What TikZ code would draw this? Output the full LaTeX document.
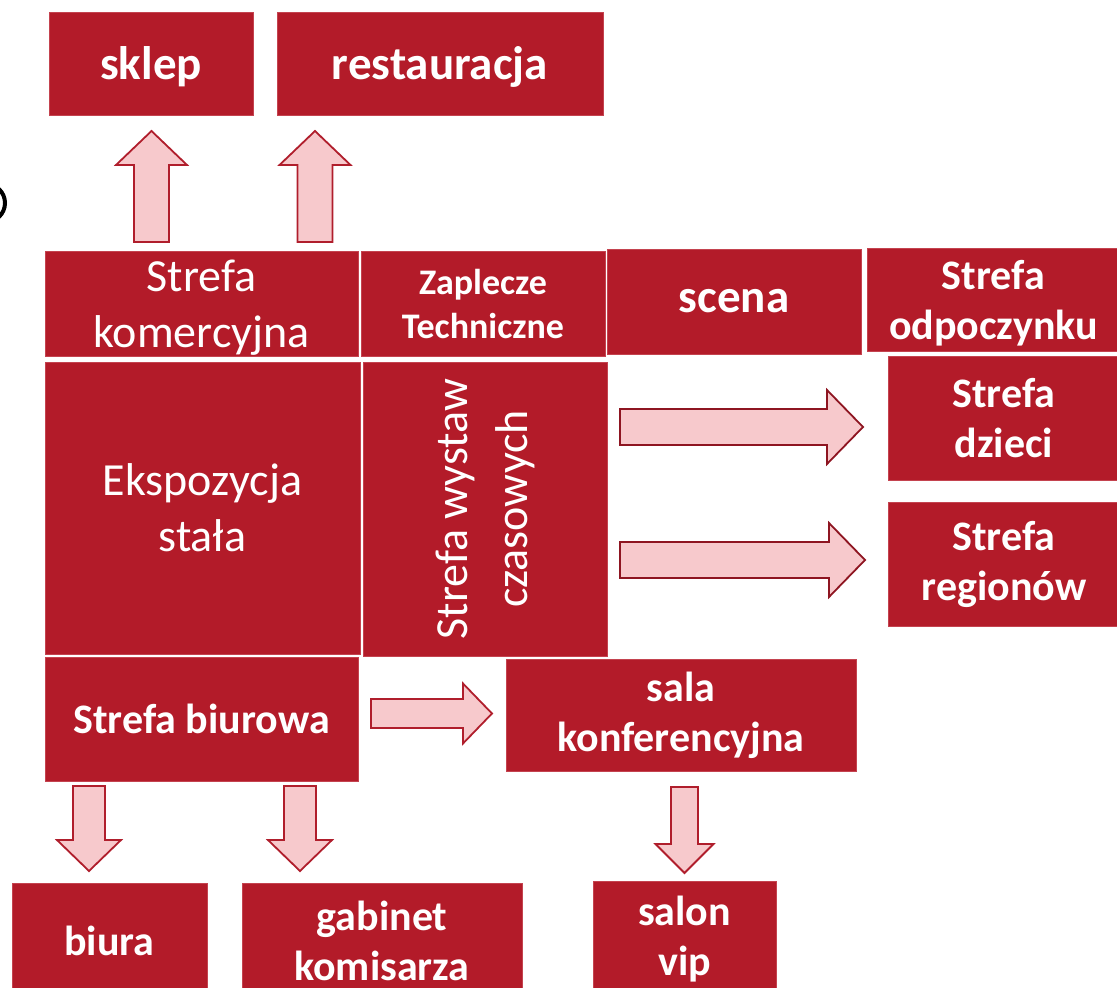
\documentclass[tikz,border=0pt]{standalone}
\usepackage{fontspec}
\setmainfont{Carlito}
\usetikzlibrary{calc}
\definecolor{boxred}{HTML}{B31B29}
\definecolor{boxedge}{HTML}{C4434F}
\definecolor{arrfill}{HTML}{F7C9CC}
\definecolor{arredge}{HTML}{B01E2C}
\definecolor{arredgedark}{HTML}{8E1521}
% #1 start coordinate, #2 direction angle, #3 length, #4 shaft half width, #5 head half width, #6 head length, #7 style
\newcommand\blockarrow[7]{%
  \begin{scope}[shift={(#1)},rotate=#2]
    \filldraw[#7] (0,-#4) -- ({#3-#6},-#4) -- ({#3-#6},-#5) -- (#3,0)
      -- ({#3-#6},#5) -- ({#3-#6},#4) -- (0,#4) -- cycle;
  \end{scope}}
\tikzset{
  zone/.style={fill=boxred, draw=boxedge, line width=0.8pt, text=white, align=center, inner sep=0pt},
  boldtxt/.style={font=\fontsize{42}{50}\selectfont\bfseries},
  bigtxt/.style={font=\fontsize{47}{56}\selectfont\bfseries},
  smalltxt/.style={font=\fontsize{36}{44}\selectfont\bfseries},
  lighttxt/.style={font=\fontsize{46}{56}\selectfont},
  nodepth/.style={text depth=0pt},
  barrow/.style={fill=arrfill, draw=arredge, line width=1.8pt, line join=miter},
  barrowdark/.style={fill=arrfill, draw=arredgedark, line width=1.8pt, line join=miter}
}
\begin{document}
\begin{tikzpicture}[x=1pt,y=-1pt]
\useasboundingbox (0,0) rectangle (1117,988);
\clip (0,0) rectangle (1117,988);
% partial black ring at the left edge
\draw[line width=4pt] (-14,203) circle (19);
% top row
\node[zone,bigtxt,nodepth,minimum width=204pt,minimum height=103pt] (sklep) at (151,63.5) {sklep};
\node[zone,bigtxt,nodepth,minimum width=326pt,minimum height=103pt] (rest) at (440,63.5) {restauracja};
% second row
\node[zone,lighttxt,nodepth,minimum width=313pt,minimum height=105pt] (komerc) at (201.5,303.5) {Strefa\\komercyjna};
\node[zone,smalltxt,minimum width=244pt,minimum height=105pt] (zapl) at (483,303.5) {Zaplecze\\Techniczne};
\node[zone,bigtxt,minimum width=254pt,minimum height=105pt] (scena) at (734,301.5) {scena};
\node[zone,boldtxt,nodepth,minimum width=253pt,minimum height=103pt] (odpocz) at (993.5,299.5) {Strefa\\odpoczynku};
% third row
\node[zone,lighttxt,minimum width=315pt,minimum height=292pt] (ekspo) at (202.5,508) {Ekspozycja\\stała};
\node[zone,minimum width=244pt,minimum height=294pt] (wystaw) at (485,509) {};
\node[font=\fontsize{46}{60}\selectfont,text=white,align=center,rotate=90] (wystawtxt) at (wystaw.center) {Strefa wystaw\\czasowych};
\node[zone,boldtxt,minimum width=232pt,minimum height=124pt] (dzieci) at (1004,418) {Strefa\\dzieci};
\node[zone,boldtxt,minimum width=232pt,minimum height=124pt] (region) at (1004,564) {Strefa\\regionów};
% fourth row
\node[zone,boldtxt,minimum width=313pt,minimum height=124pt] (biurowa) at (201.5,719) {Strefa biurowa};
\node[zone,boldtxt,minimum width=350pt,minimum height=112pt] (sala) at (681,715) {sala\\konferencyjna};
% bottom row
\node[zone,boldtxt,minimum width=195pt,minimum height=116pt] (biura) at (109.5,941) {biura};
\node[zone,boldtxt,minimum width=280pt,minimum height=116pt] (gabinet) at (382,941) {gabinet\\komisarza};
\node[zone,boldtxt,minimum width=183pt,minimum height=116pt] (salon) at (684.5,939) {salon\\vip};
% arrow anchors
\coordinate (aSklep) at (151.5,242);
\coordinate (aRest) at (315,242);
\coordinate (aDzieci) at (620,427);
\coordinate (aRegion) at (620,560);
\coordinate (aSala) at (371,713.5);
\coordinate (aBiura) at (89,786);
\coordinate (aGabinet) at (300,786);
\coordinate (aSalon) at (684.5,787);
% block arrows
\blockarrow{aSklep}{90}{111}{17.5}{35.5}{34}{barrow}
\blockarrow{aRest}{90}{111}{17.5}{35.5}{34}{barrow}
\blockarrow{aDzieci}{0}{243}{18}{37}{36}{barrowdark}
\blockarrow{aRegion}{0}{245}{18}{37}{36}{barrowdark}
\blockarrow{aSala}{0}{121}{14.5}{30}{29}{barrow}
\blockarrow{aBiura}{-90}{85}{16}{32}{31}{barrow}
\blockarrow{aGabinet}{-90}{85}{16}{32}{31}{barrow}
\blockarrow{aSalon}{-90}{86}{13.5}{29}{29}{barrow}
\end{tikzpicture}
\end{document}
